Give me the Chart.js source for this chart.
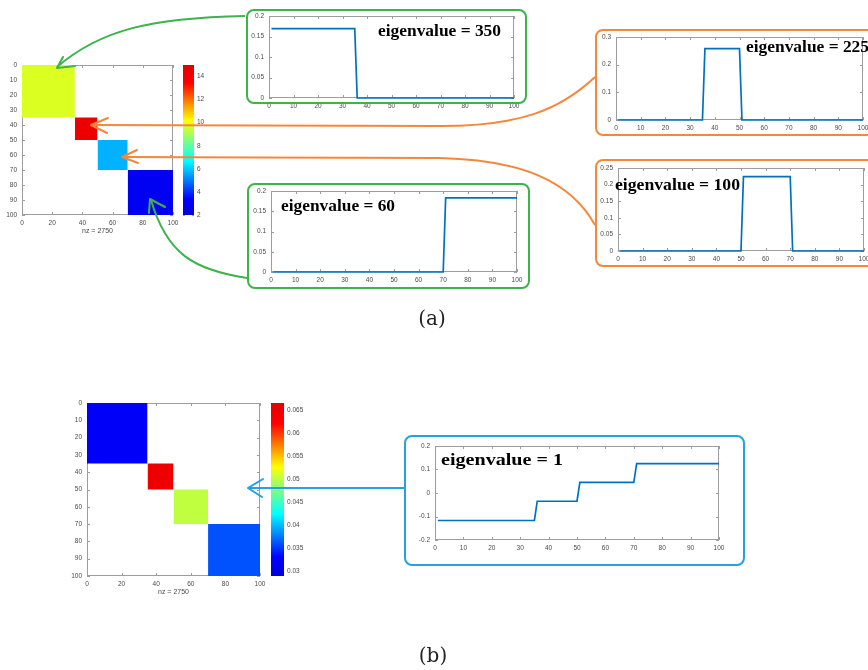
<!DOCTYPE html>
<html><head><meta charset="utf-8">
<script src="https://cdn.jsdelivr.net/npm/chart.js@4/dist/chart.umd.min.js"></script>
<style>
html,body{margin:0;padding:0;background:#fff}
body{width:868px;height:670px;overflow:hidden;position:relative}
.cw{position:absolute}
.cw canvas{display:block}
#ov{position:absolute;left:0;top:0;z-index:10;pointer-events:none}
</style></head>
<body>
<script>
// ---------- data ----------
const blockStart = [0, 35, 50, 70];
const blockEnd = [35, 50, 70, 100];
const blockValueA = [10, 15, 5, 2];
const blockValueB = [0.0286, 0.0667, 0.05, 0.0333];
const cbRangeA = [2, 15];
const cbTicksA = [2, 4, 6, 8, 10, 12, 14];
const cbRangeB = [0.0289, 0.0665];
const cbTicksB = [0.03, 0.035, 0.04, 0.045, 0.05, 0.055, 0.06, 0.065];
const matXTicks = [0, 20, 40, 60, 80, 100];
const matYTicks = [0, 10, 20, 30, 40, 50, 60, 70, 80, 90, 100];
const nzLabel = 'nz = 2750';

const vecXTicks = [0, 10, 20, 30, 40, 50, 60, 70, 80, 90, 100];
const idx350 = [1, 35, 36, 100];
const vec350 = [0.169, 0.169, 0, 0];
const yTicks350 = [0, 0.05, 0.1, 0.15, 0.2];
const idx225 = [1, 35, 36, 50, 51, 100];
const vec225 = [0, 0, 0.258, 0.258, 0, 0];
const yTicks225 = [0, 0.1, 0.2, 0.3];
const idx100 = [1, 50, 51, 70, 71, 100];
const vec100 = [0, 0, 0.224, 0.224, 0, 0];
const yTicks100 = [0, 0.05, 0.1, 0.15, 0.2, 0.25];
const idx60 = [1, 70, 71, 100];
const vec60 = [0, 0, 0.183, 0.183];
const yTicks60 = [0, 0.05, 0.1, 0.15, 0.2];
const idx1 = [1, 35, 36, 50, 51, 70, 71, 100];
const vec1 = [-0.117, -0.117, -0.035, -0.035, 0.045, 0.045, 0.125, 0.125];
const yTicks1 = [-0.2, -0.1, 0, 0.1, 0.2];
const eigenLabels = ['eigenvalue = 350', 'eigenvalue = 225', 'eigenvalue = 100', 'eigenvalue = 60', 'eigenvalue = 1'];
const panelLabels = ['(a)', '(b)'];

// ---------- style ----------
const FS = 6.5, TC = '#4a4a4a', AXC = '#9d9d9d', LINE = '#0072BD';
const blockColorsA = ['#dcff22', '#ee0000', '#00b2ff', '#0000f2'];
const blockColorsB = ['#0000fa', '#ee0000', '#bfff40', '#0052ff'];
const JET = [[0, '#0000d8'], [0.11, '#0000ff'], [0.36, '#00ffff'], [0.5, '#80ff80'], [0.63, '#ffff00'], [0.88, '#ff0000'], [1, '#e20000']];
Chart.defaults.font.family = "'Liberation Sans', Arial, sans-serif";
Chart.defaults.font.size = FS;
Chart.defaults.color = TC;

const fmt = v => String(Math.round(v * 1e5) / 1e5);

const boxPlugin = {
  id: 'mbox',
  beforeDatasetsDraw(chart) {
    const o = chart.options.plugins.mbox;
    if (!o || !o.on) return;
    const {ctx, chartArea: a} = chart;
    ctx.save();
    ctx.strokeStyle = AXC; ctx.lineWidth = 1;
    ctx.strokeRect(Math.round(a.left) + 0.5, Math.round(a.top) + 0.5, Math.round(a.right - a.left) - 1, Math.round(a.bottom - a.top) - 1);
    const tl = o.tl || 3;
    ctx.beginPath();
    if (o.xt) {
      const sx = chart.scales.x;
      sx.ticks.forEach(t => {
        const p = Math.round(sx.getPixelForValue(t.value)) + 0.5;
        ctx.moveTo(p, a.bottom); ctx.lineTo(p, a.bottom - tl);
        ctx.moveTo(p, a.top); ctx.lineTo(p, a.top + tl);
      });
    }
    const sy = chart.scales.y;
    sy.ticks.forEach(t => {
      const p = Math.round(sy.getPixelForValue(t.value)) + 0.5;
      if (o.yl !== false) { ctx.moveTo(a.left, p); ctx.lineTo(a.left + tl, p); }
      ctx.moveTo(a.right, p); ctx.lineTo(a.right - tl, p);
    });
    ctx.stroke();
    ctx.restore();
  }
};
Chart.register(boxPlugin);

function place(rect, m) {
  const d = document.createElement('div');
  d.className = 'cw';
  const W = rect.w + m.l + m.r, H = rect.h + m.t + m.b;
  d.style.left = (rect.x - m.l) + 'px';
  d.style.top = (rect.y - m.t) + 'px';
  d.style.width = W + 'px'; d.style.height = H + 'px';
  const c = document.createElement('canvas');
  c.width = W; c.height = H;
  c.style.width = W + 'px'; c.style.height = H + 'px';
  d.appendChild(c);
  document.body.appendChild(d);
  return c;
}

function xAxis(min, max, ticks, B, title) {
  return {
    type: 'linear', min, max,
    afterBuildTicks: s => { s.ticks = ticks.map(v => ({value: v})); },
    afterFit: s => { s.height = B; s.paddingLeft = 0; s.paddingRight = 0; },
    grid: {display: false, drawTicks: false}, border: {display: false},
    ticks: {padding: 4, maxRotation: 0, autoSkip: false, callback: fmt, font: {size: FS}, color: TC},
    title: title ? {display: true, text: title, color: TC, font: {size: FS + 0.5}, padding: {top: 0, bottom: 0}} : {display: false}
  };
}
function yAxis(min, max, ticks, L, reverse, pos) {
  return {
    type: 'linear', min, max, reverse: !!reverse, position: pos || 'left',
    afterBuildTicks: s => { s.ticks = ticks.map(v => ({value: v})); },
    afterFit: s => { s.width = L; s.paddingTop = 0; s.paddingBottom = 0; },
    grid: {display: false, drawTicks: false}, border: {display: false},
    ticks: {padding: pos === 'right' ? 3 : 5, autoSkip: false, callback: fmt, font: {size: FS}, color: TC}
  };
}
const base = (pad) => ({
  responsive: false, animation: false, devicePixelRatio: 1,
  layout: {padding: pad},
  plugins: {legend: {display: false}, tooltip: {enabled: false}, mbox: {on: true, xt: true}}
});

function lineChart(rect, xs, ys, yT) {
  const m = {l: 22, t: 4, r: 8, b: 13};
  const c = place(rect, m);
  const opts = base({top: m.t, right: m.r, left: 0, bottom: 0});
  opts.scales = {x: xAxis(0, 100, vecXTicks, m.b), y: yAxis(yT[0], yT[yT.length - 1], yT, m.l)};
  new Chart(c, {
    type: 'line',
    data: {datasets: [{data: xs.map((x, i) => ({x, y: ys[i]})), borderColor: LINE, borderWidth: 1.7, pointRadius: 0, tension: 0, fill: false, clip: 3}]},
    options: opts
  });
}

function matrixChart(rect, colors) {
  const m = {l: 22, t: 5, r: 8, b: 20};
  const c = place(rect, m);
  const opts = base({top: m.t, right: m.r, left: 0, bottom: 0});
  opts.scales = {x: xAxis(0, 100, matXTicks, m.b, nzLabel), y: yAxis(0, 100, matYTicks, m.l, true)};
  new Chart(c, {
    type: 'line',
    data: {datasets: blockStart.map((s, i) => ({
      data: [{x: s, y: s}, {x: blockEnd[i], y: s}],
      fill: {value: blockEnd[i]}, backgroundColor: colors[i],
      borderWidth: 0, borderColor: 'rgba(0,0,0,0)', pointRadius: 0
    }))},
    options: opts
  });
}

function colorbar(rect, range, ticks, Rw) {
  const m = {l: 0, t: 5, r: Rw, b: 5};
  const c = place(rect, m);
  const opts = base({top: m.t, right: 0, left: 0, bottom: m.b});
  opts.plugins.mbox = {on: true, xt: false, tl: 2};
  opts.scales = {x: {display: false}, y: yAxis(range[0], range[1], ticks, Rw, false, 'right')};
  new Chart(c, {
    type: 'bar',
    data: {labels: ['c'], datasets: [{
      data: [range],
      backgroundColor: ctx => {
        const a = ctx.chart.chartArea;
        if (!a) return '#00f';
        const g = ctx.chart.ctx.createLinearGradient(0, a.bottom, 0, a.top);
        JET.forEach(([o, col]) => g.addColorStop(o, col));
        return g;
      },
      barPercentage: 1, categoryPercentage: 1, borderWidth: 0, borderSkipped: false
    }]},
    options: opts
  });
}

// ---------- charts ----------
matrixChart({x: 22, y: 65, w: 151, h: 150}, blockColorsA);
colorbar({x: 183, y: 65, w: 11, h: 150}, cbRangeA, cbTicksA, 16);
matrixChart({x: 87, y: 403, w: 173, h: 173}, blockColorsB);
colorbar({x: 271, y: 403, w: 13, h: 173}, cbRangeB, cbTicksB, 28);

lineChart({x: 269, y: 16, w: 245, h: 82}, idx350, vec350, yTicks350);
lineChart({x: 616, y: 37, w: 247, h: 83}, idx225, vec225, yTicks225);
lineChart({x: 618, y: 168, w: 246, h: 83}, idx100, vec100, yTicks100);
lineChart({x: 271, y: 191, w: 246, h: 81}, idx60, vec60, yTicks60);
lineChart({x: 435, y: 446, w: 284, h: 94}, idx1, vec1, yTicks1);

// ---------- overlay: callout boxes, arrows, labels ----------
const G = '#3cb44b', O = '#f5873a', BL = '#22a2de';
const NS = 'http://www.w3.org/2000/svg';
const svg = document.createElementNS(NS, 'svg');
svg.setAttribute('id', 'ov'); svg.setAttribute('width', 868); svg.setAttribute('height', 670);
function el(tag, attrs, text) {
  const e = document.createElementNS(NS, tag);
  for (const k in attrs) e.setAttribute(k, attrs[k]);
  if (text) e.textContent = text;
  svg.appendChild(e); return e;
}
const boxes = [
  [247, 10, 279, 93, G], [596, 30, 300, 105, O], [596, 160, 300, 106, O],
  [248, 184, 281, 104, G], [405, 436, 339, 129, BL]
];
boxes.forEach(([x, y, w, h, c]) => el('rect', {x, y, width: w, height: h, rx: 7, ry: 7, fill: 'none', stroke: c, 'stroke-width': 2}));
const arrows = [
  ['M245,16 C150,18 100,30 57,67', 'M75,66 L57,68 L63,57', G],
  ['M595,77 C560,110 520,126 440,126 L91,125', 'M108,118 L91,125 L107,133', O],
  ['M595,225 C570,180 520,160 440,158 L122,157', 'M137,150 L122,157 L138,163', O],
  ['M247,278 C195,270 167,255 151,200', 'M165,207 L150,199 L149,213', G],
  ['M404,488 L249,488', 'M263,479 L248,488 L262,497', BL]
];
arrows.forEach(([p, h, c]) => {
  el('path', {d: p, fill: 'none', stroke: c, 'stroke-width': 2});
  el('path', {d: h, fill: 'none', stroke: c, 'stroke-width': 2, 'stroke-linecap': 'round', 'stroke-linejoin': 'round'});
});
const eigPos = [[378, 36, 123, 16], [746, 52, 123, 16], [615, 190, 125, 16], [281, 211, 114, 16], [441, 465, 122, 17]];
eigenLabels.forEach((t, i) => {
  const [x, y, w, s] = eigPos[i];
  el('text', {x, y, 'font-family': "'Liberation Serif','Times New Roman',serif", 'font-weight': 'bold', 'font-size': s, textLength: w, lengthAdjust: 'spacingAndGlyphs', fill: '#000'}, t);
});
el('text', {x: 432, y: 325, 'text-anchor': 'middle', 'font-family': "'DejaVu Serif','Liberation Serif',serif", 'font-size': 20, fill: '#222'}, panelLabels[0]);
el('text', {x: 433, y: 662, 'text-anchor': 'middle', 'font-family': "'DejaVu Serif','Liberation Serif',serif", 'font-size': 20, fill: '#222'}, panelLabels[1]);
document.body.appendChild(svg);
</script>
</body></html>
